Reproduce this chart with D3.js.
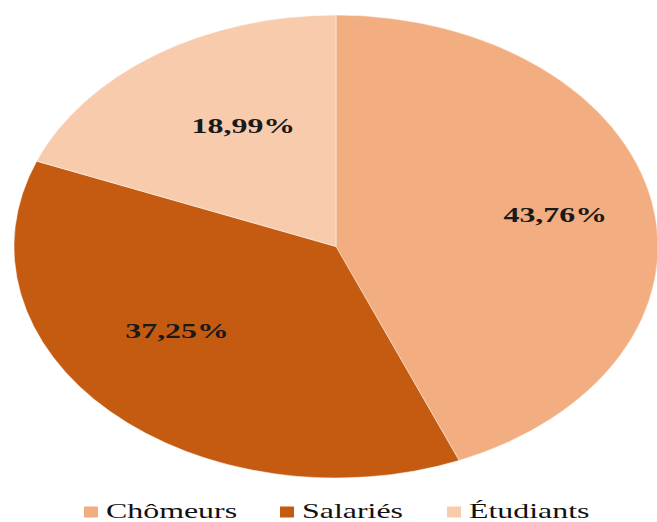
<!DOCTYPE html>
<html><head><meta charset="utf-8">
<script src="https://cdn.jsdelivr.net/npm/d3@7"></script>
<style>html,body{margin:0;padding:0;background:#fff;}svg{display:block;}</style>
</head><body>
<script>
const categories = ["Chômeurs", "Salariés", "Étudiants"];
const values = [43.76, 37.25, 18.99];
const valueLabels = ["43,76%", "37,25%", "18,99%"];
const colors = ["#F2AE80", "#C55A11", "#F8CBAD"];

const W = 657, H = 522;
const cx = 336, cy = 246.5, ry = 231.5, rx = 322;
const sx = rx / ry;
const textStretch = 1.45;

const svg = d3.select("body").append("svg").attr("width", W).attr("height", H);

const pie = d3.pie().sort(null).value(d => d);
const arcs = pie(values);
const arc = d3.arc().innerRadius(0).outerRadius(ry);

const g = svg.append("g").attr("transform", `translate(${cx},${cy}) scale(${sx},1)`);
g.selectAll("path").data(arcs).enter().append("path")
  .attr("d", arc)
  .attr("fill", (d, i) => colors[i])
  .attr("stroke", "#fff")
  .attr("stroke-opacity", 0.45)
  .attr("stroke-width", 1)
  .attr("vector-effect", "non-scaling-stroke");

// labels
const labelArc = d3.arc().innerRadius(ry * 0.65).outerRadius(ry * 0.65);
const nudges = [[14, -2], [-12, -23], [25, 4]];
svg.selectAll("text.lbl").data(arcs).enter().append("text")
  .attr("class", "lbl")
  .attr("transform", (d, i) => {
    const c = labelArc.centroid(d);
    const x = cx + c[0] * sx + nudges[i][0];
    const y = cy + c[1] + nudges[i][1];
    return `translate(${x},${y}) scale(${textStretch},1)`;
  })
  .attr("text-anchor", "middle")
  .attr("dy", "0.33em")
  .attr("font-family", "'Liberation Serif', 'Times New Roman', serif")
  .attr("font-weight", "bold")
  .attr("font-size", 22)
  .attr("fill", "#1a1a1a")
  .text((d, i) => valueLabels[i]);

// legend
const legendX = d3.scalePoint().domain(categories).range([84, 447]);
const legendPos = [84, 280, 447];
const lg = svg.selectAll("g.leg").data(categories).enter().append("g")
  .attr("class", "leg")
  .attr("transform", (d, i) => `translate(${legendPos[i]},512)`);
lg.append("rect").attr("x", 0).attr("y", -5.5).attr("width", 14).attr("height", 11)
  .attr("fill", (d, i) => colors[i]);
lg.append("text")
  .attr("transform", `translate(22,6) scale(${textStretch},1)`)
  .attr("font-family", "'Liberation Serif', 'Times New Roman', serif")
  .attr("font-size", 22)
  .attr("fill", "#111")
  .text(d => d);
</script>
</body></html>
